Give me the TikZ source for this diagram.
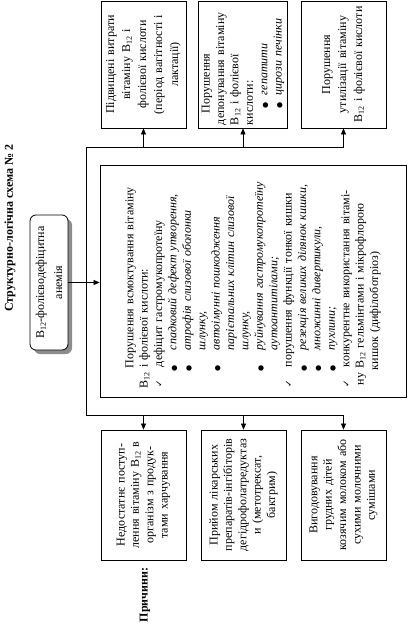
\documentclass[tikz,border=0pt]{standalone}
\usepackage{fontspec}
\setmainfont{Liberation Serif}
\newfontfamily\symfont{DejaVu Sans}
\usetikzlibrary{arrows.meta}
\newcommand{\Bvit}{B\textsubscript{12}}
\newcommand{\dotmark}{{\symfont\fontsize{7}{7}\selectfont ●}}
\newcommand{\chk}{\makebox[24pt][l]{\hspace*{4pt}{\symfont\small ✓}}}
\newcommand{\blt}{\hspace*{20pt}\makebox[21pt][l]{\dotmark}}
\newcommand{\ind}{\hspace*{41pt}}
\begin{document}
\begin{tikzpicture}[x=1pt,y=-1pt,
  box/.style={draw, line width=0.8pt, rotate=90, inner sep=3pt,
    font=\fontsize{12}{14.4}\selectfont},
  link/.style={line width=0.7pt},
  arr/.style={link, -{Triangle[length=6pt,width=5pt]}}]
  \useasboundingbox (0,0) rectangle (408,632);
  % 标题
  \node[rotate=90, font=\fontsize{12}{14}\selectfont\bfseries] (title) at (10,228)
    {Структурно-логічна схема № 2};
  \node[rotate=90, font=\fontsize{12}{14}\selectfont\bfseries] (causes) at (145,595)
    {Причини:};
  % 疾病
  \fill[black!45, rounded corners=6pt] (34,219) rectangle (72,354);
  \node[box, fill=white, rounded corners=6pt, minimum width=135pt, minimum height=38pt,
    text width=129pt, align=center, font=\fontsize{12}{18}\selectfont] (anemia) at (49,282.5)
    {\Bvit-фолієводефіцитна\\анемія};
  % 上方
  \node[box, minimum width=127pt, minimum height=85pt, text width=121pt, align=center,
    font=\fontsize{12}{16}\selectfont] (top1) at (143.5,64.5)
    {Підвищені витрати\\вітаміну \Bvit{} і\\фолієвої кислоти\\(період вагітності і\\лактації)};
  \node[box, minimum width=127pt, minimum height=85pt, text width=121pt, align=left] (top2) at (243,64.5)
    {\hspace*{12pt}Порушення\\депонування вітаміну\\\Bvit{} і фолієвої\\кислоти:\\
     \hspace*{17pt}\makebox[13pt][l]{\dotmark}\textit{гепатити}\\
     \hspace*{17pt}\makebox[13pt][l]{\dotmark}\textit{цирози печінки}};
  \node[box, minimum width=127pt, minimum height=85pt, text width=121pt, align=center,
    font=\fontsize{12}{16}\selectfont] (top3) at (343.5,64.5)
    {Порушення\\утилізації вітаміну\\\Bvit{} і фолієвої кислоти};
  % 中间
  \node[box, minimum width=232pt, minimum height=306pt, inner xsep=6pt, text width=220pt,
    align=left] (absorb) at (253,281) {%
    \hspace*{23pt}Порушення всмоктування вітаміну\\
    \hspace*{3pt}\Bvit{} і фолієвої кислоти:\\
    \chk дефіцит гастромукопротеїну\\
    \blt\textit{спадковий дефект утворення,}\\
    \blt\textit{атрофія слизової оболонки}\\
    \ind\textit{шлунку,}\\
    \blt\textit{автоімунні пошкодження}\\
    \ind\textit{парієтальних клітин слизової}\\
    \ind\textit{шлунку,}\\
    \blt\textit{руйнування гастромукопротеїну}\\
    \ind\textit{аутоантитілами;}\\
    \chk порушення функції тонкої кишки\\
    \blt\textit{резекція великих ділянок кишки,}\\
    \blt\textit{множинні дивертикули,}\\
    \blt\textit{пухлини;}\\
    \chk конкурентне використання вітамі-\\
    \hspace*{6pt}ну \Bvit{} гельмінтами і мікрофлорою\\
    \hspace*{21pt}кишок (дифілоботріоз)};
  % 下方
  \node[box, minimum width=130pt, minimum height=85pt, text width=124pt, align=center] (bot1) at (143.5,495)
    {Недостатнє поступ-\\лення вітаміну \Bvit{} в\\організм з продук-\\тами харчування};
  \node[box, minimum width=130pt, minimum height=85pt, text width=124pt, align=center] (bot2) at (243.5,495)
    {Прийом лікарських\\препаратів-інгібіторів\\дегідрофолатредуктаз\\и (метотрексат,\\бактрим)};
  \node[box, minimum width=130pt, minimum height=85pt, text width=124pt, align=center] (bot3) at (343.5,495)
    {Вигодовування\\грудних дітей\\козячим молоком або\\сухими молочними\\сумішами};
  % 连线
  \coordinate (fr top) at (86,147);
  \coordinate (fr bot) at (86,415);
  \draw[link] (top3.west |- fr top) -- (fr top) -- (fr bot) -- (bot3.east |- fr bot);
  \foreach \n in {top1,top2,top3}
    \draw[arr] (\n.west |- fr top) -- (\n.west);
  \foreach \n in {bot1,bot2,bot3}
    \draw[arr] (\n.east |- fr bot) -- (\n.east);
  \draw[arr] (anemia.south) -- (anemia.south -| absorb.north);
\end{tikzpicture}
\end{document}
